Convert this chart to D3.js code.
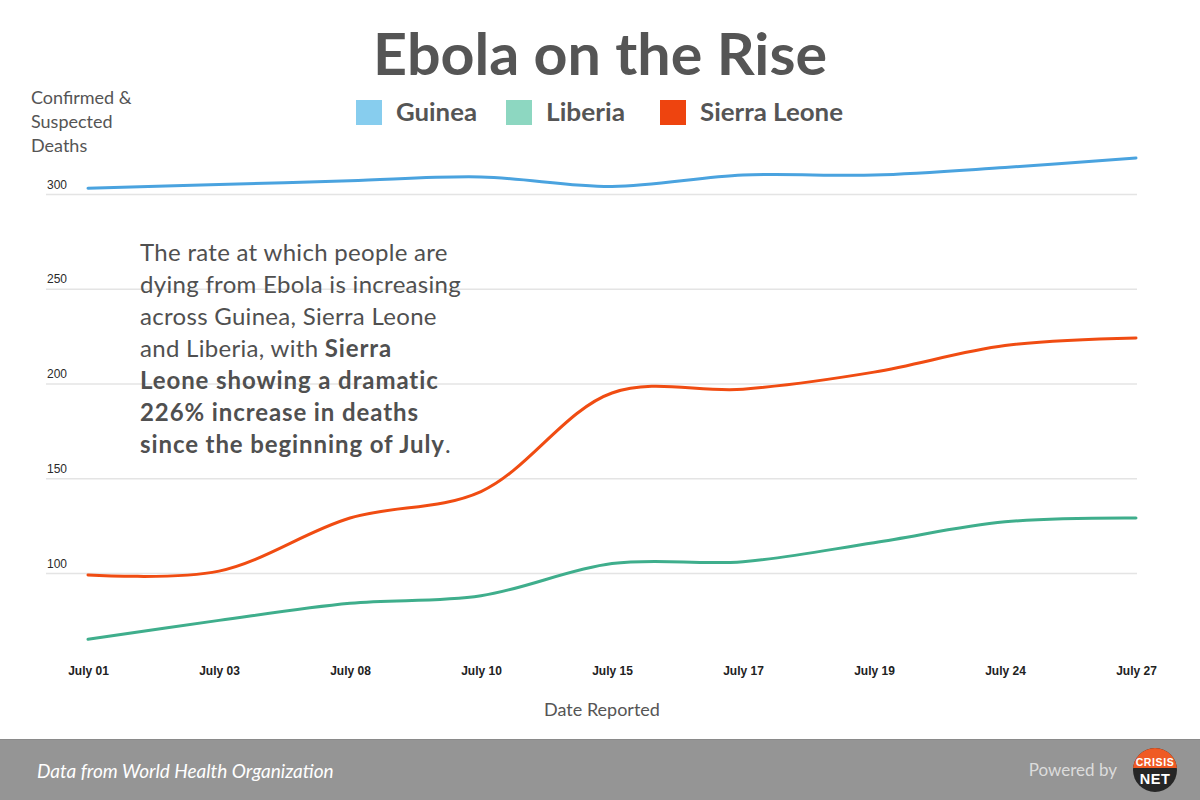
<!DOCTYPE html>
<html>
<head>
<meta charset="utf-8">
<script src="https://cdn.jsdelivr.net/npm/d3@7"></script>
<style>
  html, body { margin: 0; padding: 0; background: #fff; }
  svg { display: block; }
</style>
</head>
<body>
<svg id="chart" width="1200" height="800"></svg>
<script>
// ---- data ----
const dates = ["July 01","July 03","July 08","July 10","July 15","July 17","July 19","July 24","July 27"];
const guinea = [303, 305, 307, 309, 304, 310, 310, 314, 319];
const liberia = [65, 75, 84, 88, 105, 106, 116, 127, 129];
const sierraLeone = [99, 101, 129, 143, 195, 197, 206, 220, 224];
const seriesNames = ["Guinea", "Liberia", "Sierra Leone"];
const yTicks = [100, 150, 200, 250, 300];

const legendColors = ["#87cdee", "#8dd7c1", "#ee440f"];
const lineColors = ["#4aa3df", "#3fae8c", "#f04c12"];
const seriesValues = [guinea, liberia, sierraLeone];

const svg = d3.select("#chart");
const textGray = "#555555";
const fontMain = "Lato, 'Open Sans', sans-serif";

// scales
const x = d3.scalePoint().domain(dates).range([88, 1136]).padding(0);
const y = d3.scaleLinear().domain([100, 300]).range([573, 194]);

// title
svg.append("text")
  .attr("x", 600).attr("y", 75)
  .attr("text-anchor", "middle")
  .attr("font-family", fontMain)
  .attr("font-weight", "bold")
  .attr("font-size", 58)
  .attr("fill", textGray)
  .attr("textLength", 454)
  .attr("lengthAdjust", "spacingAndGlyphs")
  .text("Ebola on the Rise");

// legend
const legendPos = [{sx: 356, tx: 396, w: 81}, {sx: 506, tx: 546, w: 79}, {sx: 660, tx: 700, w: 143}];
const legend = svg.append("g");
seriesNames.forEach((n, i) => {
  legend.append("rect")
    .attr("x", legendPos[i].sx).attr("y", 100)
    .attr("width", 26).attr("height", 25)
    .attr("fill", legendColors[i]);
  legend.append("text")
    .attr("x", legendPos[i].tx).attr("y", 121)
    .attr("font-family", fontMain)
    .attr("font-weight", "bold")
    .attr("font-size", 25)
    .attr("fill", textGray)
    .attr("textLength", legendPos[i].w)
    .attr("lengthAdjust", "spacingAndGlyphs")
    .text(n);
});

// y axis title
const yTitle = ["Confirmed &", "Suspected", "Deaths"];
yTitle.forEach((t, i) => {
  svg.append("text")
    .attr("x", 31).attr("y", 104 + i * 24)
    .attr("font-family", fontMain)
    .attr("font-size", 18)
    .attr("fill", textGray)
    .text(t);
});

// gridlines + y labels via axis
const yAxis = d3.axisLeft(y).tickValues(yTicks).tickSize(-(1137 - 46)).tickFormat(d3.format("d"));
const gy = svg.append("g").attr("transform", "translate(46,0)").call(yAxis);
gy.select(".domain").remove();
gy.selectAll(".tick line").attr("stroke", "#e4e4e4").attr("stroke-width", 1.5);
gy.selectAll(".tick text")
  .attr("x", 1).attr("dy", "-0.5em")
  .attr("text-anchor", "start")
  .attr("font-family", "'Liberation Sans', Arial, sans-serif")
  .attr("font-size", 12)
  .attr("fill", "#2a2a2a");

// x axis labels
const xAxis = d3.axisBottom(x).tickSize(0);
const gx = svg.append("g").attr("transform", "translate(0,660)").call(xAxis);
gx.select(".domain").remove();
gx.selectAll(".tick text")
  .attr("dy", 0).attr("y", 15)
  .attr("font-family", "'Liberation Sans', Arial, sans-serif")
  .attr("font-weight", "bold")
  .attr("font-size", 12)
  .attr("fill", "#222");

svg.append("text")
  .attr("x", 602).attr("y", 716)
  .attr("text-anchor", "middle")
  .attr("font-family", fontMain)
  .attr("font-size", 18)
  .attr("fill", textGray)
  .text("Date Reported");

// lines
const line = d3.line()
  .x((d, i) => x(dates[i]))
  .y(d => y(d))
  .curve(d3.curveCatmullRom.alpha(0.5));

seriesValues.forEach((vals, i) => {
  svg.append("path")
    .datum(vals)
    .attr("d", line)
    .attr("fill", "none")
    .attr("stroke", lineColors[i])
    .attr("stroke-width", 3)
    .attr("stroke-linecap", "round");
});

// annotation
const annot = [
  [["The rate at which people are", false]],
  [["dying from Ebola is increasing", false]],
  [["across Guinea, Sierra Leone", false]],
  [["and Liberia, with ", false], ["Sierra", true]],
  [["Leone showing a dramatic", true]],
  [["226% increase in deaths", true]],
  [["since the beginning of July", true], [".", false]]
];
const at = svg.append("text")
  .attr("font-family", fontMain)
  .attr("font-size", 24)
  .attr("fill", "#505050");
annot.forEach((parts, li) => {
  parts.forEach((p, pi) => {
    const ts = at.append("tspan").text(p[0])
      .attr("font-weight", p[1] ? "bold" : "normal")
      .attr("letter-spacing", p[1] ? 0.9 : 0.3);
    if (pi === 0) ts.attr("x", 140).attr("y", 261 + li * 32);
  });
});

// footer
svg.append("rect").attr("x", 0).attr("y", 739).attr("width", 1200).attr("height", 61).attr("fill", "#959595");
svg.append("line").attr("x1", 0).attr("x2", 1200).attr("y1", 739.5).attr("y2", 739.5).attr("stroke", "#8a8a8a");
svg.append("text")
  .attr("x", 37).attr("y", 778)
  .attr("font-family", fontMain)
  .attr("font-style", "italic")
  .attr("font-size", 19)
  .attr("fill", "#ffffff")
  .text("Data from World Health Organization");
svg.append("text")
  .attr("x", 1117).attr("y", 776)
  .attr("text-anchor", "end")
  .attr("font-family", fontMain)
  .attr("font-size", 17)
  .attr("fill", "#dcdcdc")
  .text("Powered by");

// logo
const cx = 1155, cy = 770, r = 22;
const logo = svg.append("g");
logo.append("circle").attr("cx", cx).attr("cy", cy).attr("r", r).attr("fill", "#262626");
logo.append("clipPath").attr("id", "topHalf")
  .append("rect").attr("x", cx - r).attr("y", cy - r).attr("width", 2 * r).attr("height", r - 2);
logo.append("circle").attr("cx", cx).attr("cy", cy).attr("r", r).attr("fill", "#ef5a24").attr("clip-path", "url(#topHalf)");
logo.append("text").attr("x", cx).attr("y", 765.5).attr("text-anchor", "middle")
  .attr("font-family", "'Liberation Sans', Arial, sans-serif").attr("font-weight", "bold")
  .attr("font-size", 10.5).attr("letter-spacing", 0.6).attr("fill", "#fff").text("CRISIS");
logo.append("text").attr("x", cx).attr("y", 784).attr("text-anchor", "middle")
  .attr("font-family", "'Liberation Sans', Arial, sans-serif").attr("font-weight", "bold")
  .attr("font-size", 14.5).attr("letter-spacing", 0.5).attr("fill", "#fff").text("NET");
</script>
</body>
</html>
